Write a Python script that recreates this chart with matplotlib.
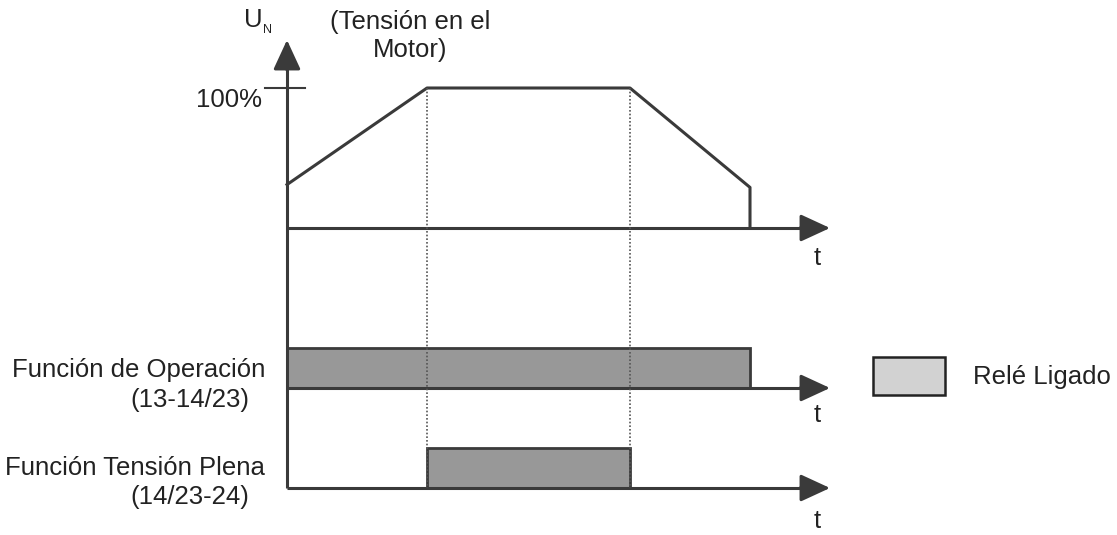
import matplotlib.pyplot as plt
from matplotlib.patches import Rectangle

plt.rcParams['font.family'] = ['Liberation Sans', 'DejaVu Sans']

# motor voltage profile (time from start, voltage in % of U_N)
ramp_t = [0, 140, 343, 463, 463]
ramp_u = [31, 100, 100, 29, 0]

# relay on intervals
op_on = (0, 463)      # Función de Operación
full_on = (140, 343)  # Función Tensión Plena

t_end = 543
row_labels = ['Función de Operación', 'Función Tensión Plena']
row_codes = ['(13-14/23)', '(14/23-24)']

INK = '#3a3a3a'
TXT = '#222222'
FILL = '#989898'
FS = 18.5

fig = plt.figure(figsize=(11.17, 5.35), dpi=100)
ax = fig.add_axes([0, 0, 1, 1])
ax.set_xlim(-287, 1117 - 287)
ax.set_ylim(535, 0)
ax.axis('off')

base_v = 228
scale_v = 1.4
def vy(u):
    return base_v - scale_v * u

head = dict(arrowstyle='-|>,head_length=0.65,head_width=0.3', color=INK, lw=2.2,
            mutation_scale=28, shrinkA=0, shrinkB=0)

# vertical axis
ax.plot([0, 0], [488, 60], color=INK, lw=2.2, solid_capstyle='butt')
ax.annotate('', xy=(0, 40), xytext=(0, 70), arrowprops=head)

# horizontal axes with arrows
t_off = [30, 27, 33]
for yb, off in zip([base_v, 388, 488], t_off):
    ax.plot([0, t_end - 25], [yb, yb], color=INK, lw=2.2, solid_capstyle='butt')
    ax.annotate('', xy=(t_end, yb), xytext=(t_end - 30, yb), arrowprops=head)
    ax.text(t_end - 13, yb + off, 't', fontsize=FS, ha='center', va='center', color=TXT)

# 100% tick
ax.plot([-22, 18], [vy(100), vy(100)], color=INK, lw=1.5)
ax.text(-25, vy(100) + 12, '100%', fontsize=FS, ha='right', va='center', color=TXT)

# voltage curve
ax.plot(ramp_t, [vy(u) for u in ramp_u], color=INK, lw=2.2)

# dotted guides
for tx in [ramp_t[1], ramp_t[2]]:
    ax.plot([tx, tx], [vy(100), 488], color='#555555', lw=1.2, ls=(0, (1, 1.2)))

# relay bars
ax.add_patch(Rectangle((op_on[0], 348), op_on[1] - op_on[0], 40,
                       facecolor=FILL, edgecolor=INK, lw=2))
ax.add_patch(Rectangle((full_on[0], 448), full_on[1] - full_on[0], 40,
                       facecolor=FILL, edgecolor=INK, lw=2))

# labels
ax.text(-24, 20, 'U', fontsize=FS, ha='right', va='center', color=TXT)
ax.text(-19, 30, 'N', fontsize=9, ha='center', va='center', color=TXT)
ax.text(123, 36, '(Tensión en el\nMotor)', fontsize=FS, ha='center', va='center',
        color=TXT, linespacing=1.25)

ax.text(-22, 370, row_labels[0], fontsize=FS, ha='right', va='center', color=TXT)
ax.text(-97, 400, row_codes[0], fontsize=FS, ha='center', va='center', color=TXT)
ax.text(-22, 468, row_labels[1], fontsize=FS, ha='right', va='center', color=TXT)
ax.text(-97, 497, row_codes[1], fontsize=FS, ha='center', va='center', color=TXT)

# legend
ax.add_patch(Rectangle((873 - 287, 357), 72, 38, facecolor='#d2d2d2', edgecolor=TXT, lw=1.8))
ax.text(973 - 287, 377, 'Relé Ligado', fontsize=FS, ha='left', va='center', color=TXT)

fig.savefig('out.png', dpi=100)
